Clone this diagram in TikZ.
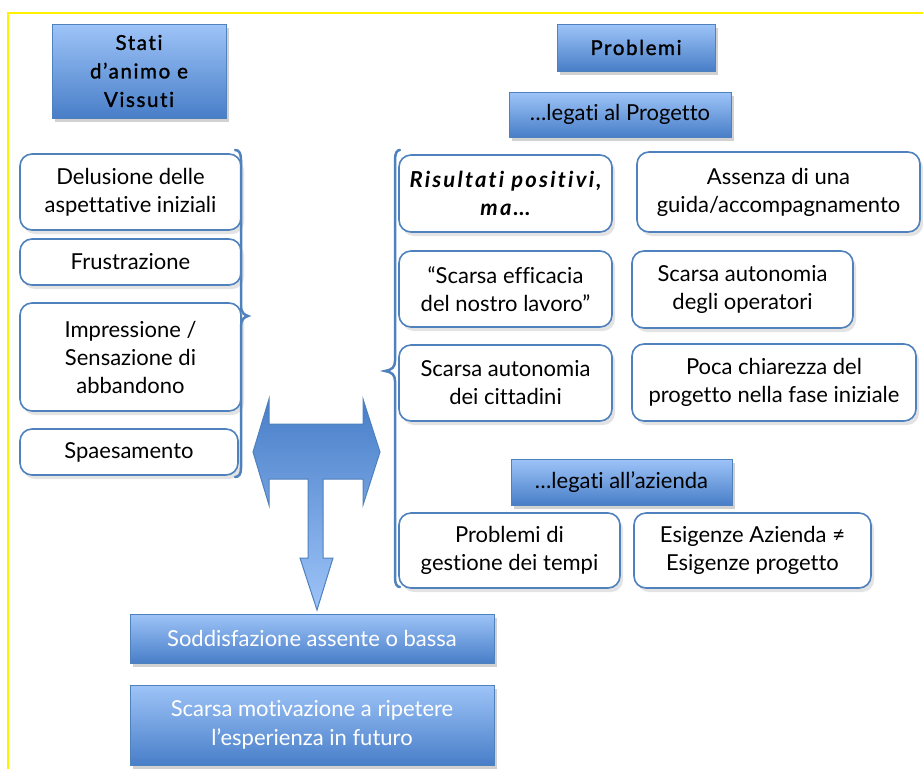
\documentclass[tikz,border=0pt]{standalone}
\usepackage{fontspec}
\setmainfont[Ligatures=NoCommon]{Lato}
\newfontfamily\headfont[LetterSpace=8,Ligatures=NoCommon,FakeBold=1.4]{Lato}
\newfontfamily\headitfont[LetterSpace=10,Ligatures=NoCommon]{Lato}
\usetikzlibrary{shadows}
\definecolor{bord}{RGB}{79,129,189}
\definecolor{gtop}{RGB}{158,196,248}
\definecolor{gbot}{RGB}{72,126,200}
\definecolor{yframe}{RGB}{255,242,0}
\tikzset{
  hdr/.style={draw=bord, line width=1pt, top color=gtop, bottom color=gbot,
    drop shadow={shadow xshift=3pt, shadow yshift=-4pt, opacity=0.3, fill=black!60},
    align=center, inner sep=0pt, font=\headfont\fontsize{20.5}{28.5}\selectfont},
  subhdr/.style={hdr, font=\fontsize{22}{28}\selectfont},
  whdr/.style={hdr, text=white, font=\fontsize{22}{29}\selectfont},
  rbox/.style={draw=bord, line width=1.6pt, fill=white, rounded corners=12pt,
    drop shadow={shadow xshift=3pt, shadow yshift=-4pt, opacity=0.18, fill=black!60},
    align=center, inner sep=0pt, font=\fontsize{22}{28}\selectfont},
  bracepath/.style={draw=bord, line width=2.5pt, line cap=round},
  tarrow/.style={draw=bord, line width=1pt, top color=gbot, bottom color=gtop}
}
\begin{document}
\begin{tikzpicture}[x=1pt,y=-1pt]
\useasboundingbox (0,0) rectangle (923,769);
% yellow frame
\draw[yframe, line width=2pt] (8,769) -- (8,13) -- (923,13);

% headers
\node[hdr, minimum width=174pt, minimum height=94pt] (stati) at (139,71) {Stati\\d’animo e\\Vissuti};
\node[hdr, minimum width=158pt, minimum height=47pt] (probl) at (636,47.5) {Problemi};
\node[subhdr, minimum width=222pt, minimum height=45pt] (progetto) at (620,114.5) {…legati al Progetto};
\node[subhdr, minimum width=221pt, minimum height=46pt] (azienda) at (621.5,482) {…legati all’azienda};

% left boxes
\node[rbox, minimum width=221pt, minimum height=76pt] (delus) at (130.5,192) {Delusione delle\\aspettative iniziali};
\node[rbox, minimum width=221pt, minimum height=46pt] (frus) at (130.5,262) {Frustrazione};
\node[rbox, minimum width=221pt, minimum height=108pt] (impr) at (130.5,357) {Impressione /\\Sensazione di\\abbandono};
\node[rbox, minimum width=218pt, minimum height=46pt] (spaes) at (129,452) {Spaesamento};

% right boxes
\node[rbox, minimum width=213pt, minimum height=77pt] (risult) at (505.5,193.5) {\headitfont\bfseries\itshape Risultati positivi,\\\headitfont\bfseries\itshape ma…};
\node[rbox, minimum width=283pt, minimum height=80pt] (assenza) at (778.5,192) {Assenza di una\\guida/accompagnamento};
\node[rbox, minimum width=213pt, minimum height=76pt] (efficacia) at (505.5,289) {“Scarsa efficacia\\del nostro lavoro”};
\node[rbox, minimum width=221pt, minimum height=77pt] (operatori) at (742.5,289.5) {Scarsa autonomia\\degli operatori};
\node[rbox, minimum width=213pt, minimum height=76pt] (cittadini) at (505.5,383) {Scarsa autonomia\\dei cittadini};
\node[rbox, minimum width=284pt, minimum height=77pt] (chiarezza) at (774,382.5) {Poca chiarezza del\\progetto nella fase iniziale};
\node[rbox, minimum width=221pt, minimum height=75pt] (tempi) at (509.5,550.5) {Problemi di\\gestione dei tempi};
\node[rbox, minimum width=237pt, minimum height=75pt] (esig) at (752.5,550.5) {Esigenze Azienda ≠\\Esigenze progetto};

% bottom boxes
\node[whdr, minimum width=364pt, minimum height=49pt] (soddisf) at (312,638.5) {Soddisfazione assente o bassa};
\node[whdr, minimum width=364pt, minimum height=80pt] (motiv) at (312,725) {Scarsa motivazione a ripetere\\l’esperienza in futuro};

% braces
\path[bracepath] (235,150) .. controls (239,150) and (241,153) .. (241,160) -- (241,306)
  .. controls (241,312) and (244,315) .. (248,316) .. controls (244,317) and (241,320) .. (241,326)
  -- (241,468) .. controls (241,474) and (239,477) .. (235,477);
\path[bracepath] (400,150) .. controls (397,150) and (395,153) .. (395,160) -- (395,361)
  .. controls (395,367) and (392,370) .. (385,371) .. controls (392,372) and (395,375) .. (395,381)
  -- (395,578) .. controls (395,584) and (397,587) .. (400,587);

% T-shaped arrow
\path[tarrow] (253,452) -- (269,399) -- (269,424) -- (363,424) -- (363,399) -- (380,452)
  -- (363,505) -- (363,479) -- (323,479) -- (323,558) -- (333,558) -- (317,610)
  -- (300,558) -- (308,558) -- (308,479) -- (269,479) -- (269,505) -- cycle;
\end{tikzpicture}
\end{document}
